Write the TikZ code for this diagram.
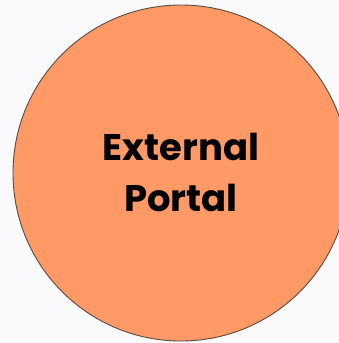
\documentclass[tikz,border=0pt]{standalone}
\usepackage{fontspec}
\setmainfont{Poppins}[UprightFont=* Bold]
\definecolor{bgc}{HTML}{FAFAFC}
\definecolor{fillc}{HTML}{FF9966}
\definecolor{edgec}{HTML}{5A4A40}
\begin{document}
\begin{tikzpicture}[x=1pt,y=-1pt,
  portal/.style={circle,draw=edgec,line width=0.9pt,fill=fillc,minimum size=336pt,inner sep=0pt},
  label/.style={font=\fontsize{37}{51}\selectfont,align=center,text=black}]
\fill[bgc] (0,0) rectangle (339,343);
\useasboundingbox (0,0) rectangle (339,343);
\node[portal] (c) at (181,173) {};
\node[label] (t) at (181,172) {External\\Portal};
\end{tikzpicture}
\end{document}
